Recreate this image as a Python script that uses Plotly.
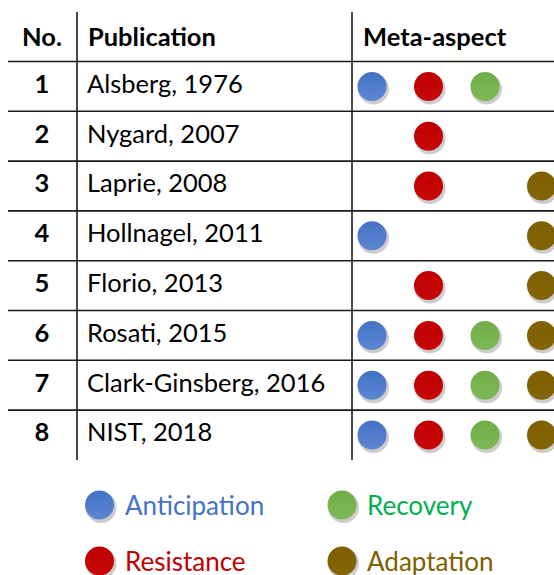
import plotly.graph_objects as go

# ---- data ----
row_numbers = ["1", "2", "3", "4", "5", "6", "7", "8"]
publications = ["Alsberg, 1976", "Nygard, 2007", "Laprie, 2008", "Hollnagel, 2011",
                "Florio, 2013", "Rosati, 2015", "Clark-Ginsberg, 2016", "NIST, 2018"]
aspects = ["Anticipation", "Resistance", "Recovery", "Adaptation"]
# presence matrix: rows = publications, cols = aspects
anticipation = [1, 0, 0, 1, 0, 1, 1, 1]
resistance   = [1, 1, 1, 0, 1, 1, 1, 1]
recovery     = [1, 0, 0, 0, 0, 1, 1, 1]
adaptation   = [0, 0, 1, 1, 1, 1, 1, 1]
headers = ["No.", "Publication", "Meta-aspect"]

# ---- styling ----
W, H = 554, 575
marker_colors = {"Anticipation": "#4472C4", "Resistance": "#C00000",
                 "Recovery": "#70AD47", "Adaptation": "#7F6000"}
marker_light = {"Anticipation": "#5B86D3", "Resistance": "#C80808",
                "Recovery": "#7DB856", "Adaptation": "#846506"}
text_colors = {"Anticipation": "#4472C4", "Resistance": "#C00000",
               "Recovery": "#00B050", "Adaptation": "#7F6000"}
FONT = "Lato, Carlito, Calibri, sans-serif"
FS = 25.5
FS_LEG = 26

top_line = 61.5
row_h = 49.8
row_y = [top_line + row_h * (i + 0.5) for i in range(len(publications))]
col_x0, col_dx = 372, 56.5
dot = 29

fig = go.Figure()
presence = {"Anticipation": anticipation, "Resistance": resistance,
            "Recovery": recovery, "Adaptation": adaptation}

def dots(xs, ys, name):
    # soft shadow
    fig.add_trace(go.Scatter(x=[x + 1.5 for x in xs], y=[y + 2.5 for y in ys], mode="markers",
                             marker=dict(size=dot + 2, color="rgba(0,0,0,0.2)", line=dict(width=0)),
                             hoverinfo="skip", showlegend=False, cliponaxis=False))
    fig.add_trace(go.Scatter(x=xs, y=ys, mode="markers", name=name,
                             marker=dict(size=dot, color=marker_colors[name], line=dict(width=0),
                                         gradient=dict(type="vertical", color=marker_light[name])),
                             showlegend=False, cliponaxis=False))

for j, a in enumerate(aspects):
    xs = [col_x0 + j * col_dx for i, v in enumerate(presence[a]) if v]
    ys = [row_y[i] for i, v in enumerate(presence[a]) if v]
    dots(xs, ys, a)

# legend dots
leg_pos = {"Anticipation": (99.5, 505), "Recovery": (342, 505),
           "Resistance": (99.5, 561), "Adaptation": (342, 561)}
for a in aspects:
    x, y = leg_pos[a]
    dots([x], [y], a)

# table text
fig.add_trace(go.Scatter(x=[42] * len(row_numbers), y=row_y, mode="text", text=[f"<b>{n}</b>" for n in row_numbers],
                         textposition="middle center", textfont=dict(family=FONT, size=FS, color="black"),
                         hoverinfo="skip", showlegend=False, cliponaxis=False))
fig.add_trace(go.Scatter(x=[87] * len(publications), y=row_y, mode="text", text=publications,
                         textposition="middle right", textfont=dict(family=FONT, size=FS, color="black"),
                         hoverinfo="skip", showlegend=False, cliponaxis=False))

annotations = []
hy = 36
annotations.append(dict(x=42, y=hy, text=f"<b>{headers[0]}</b>", xanchor="center"))
annotations.append(dict(x=86, y=hy, text=f"<b>{headers[1]}</b>", xanchor="left"))
annotations.append(dict(x=361, y=hy, text=f"<b>{headers[2]}</b>", xanchor="left"))
for a in annotations:
    a.update(xref="x", yref="y", yanchor="middle", showarrow=False,
             font=dict(family=FONT, size=FS, color="black"))
for a in aspects:
    x, y = leg_pos[a]
    annotations.append(dict(x=x + 23, y=y, xref="x", yref="y", text=a, xanchor="left", yanchor="middle",
                            showarrow=False, font=dict(family=FONT, size=FS_LEG, color=text_colors[a])))

# table lines
shapes = []
line_style = dict(color="#1a1a1a", width=1.6)
for k in range(len(publications)):
    y = top_line + row_h * k
    shapes.append(dict(type="line", x0=8, x1=W + 5, y0=y, y1=y, xref="x", yref="y", line=line_style, layer="below"))
for x in (77, 352):
    shapes.append(dict(type="line", x0=x, x1=x, y0=12, y1=460, xref="x", yref="y", line=line_style, layer="below"))

fig.update_layout(
    width=W, height=H, margin=dict(l=0, r=0, t=0, b=0),
    paper_bgcolor="white", plot_bgcolor="white",
    xaxis=dict(range=[0, W], visible=False, fixedrange=True),
    yaxis=dict(range=[H, 0], visible=False, fixedrange=True),
    annotations=annotations, shapes=shapes, showlegend=False,
)
fig.write_html(
    "out.html",
    config={"displayModeBar": False, "staticPlot": True},
    post_script=("document.body.style.margin='0';"
                 "document.body.style.overflow='hidden';"
                 "document.documentElement.style.overflow='hidden';"),
)
